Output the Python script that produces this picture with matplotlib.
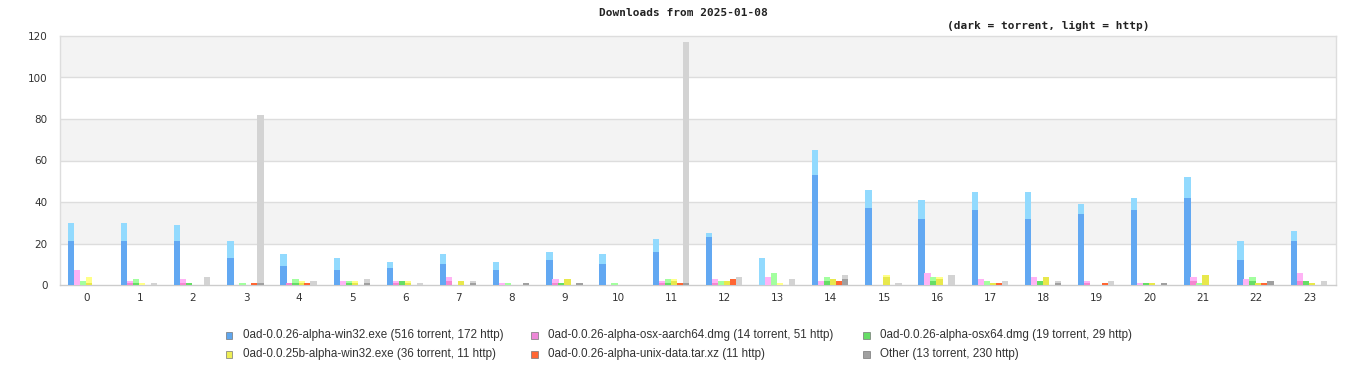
import matplotlib
matplotlib.use("Agg")
import matplotlib.pyplot as plt
import numpy as np
from matplotlib.patches import Rectangle

hours = list(range(24))

series_labels = [
    "0ad-0.0.26-alpha-win32.exe (516 torrent, 172 http)",
    "0ad-0.0.26-alpha-osx-aarch64.dmg (14 torrent, 51 http)",
    "0ad-0.0.26-alpha-osx64.dmg (19 torrent, 29 http)",
    "0ad-0.0.25b-alpha-win32.exe (36 torrent, 11 http)",
    "0ad-0.0.26-alpha-unix-data.tar.xz (11 http)",
    "Other (13 torrent, 230 http)",
]

win32_torrent = [21, 21, 21, 13, 9, 7, 8, 10, 7, 12, 10, 16, 23, 0, 53, 37, 32, 36, 32, 34, 36, 42, 12, 21]
win32_http = [9, 9, 8, 8, 6, 6, 3, 5, 4, 4, 5, 6, 2, 13, 12, 9, 9, 9, 13, 5, 6, 10, 9, 5]
aarch_torrent = [0, 1, 1, 0, 1, 0, 1, 2, 0, 1, 0, 1, 1, 0, 0, 0, 0, 0, 0, 1, 0, 2, 0, 2]
aarch_http = [7, 1, 2, 0, 0, 2, 1, 2, 1, 2, 0, 1, 2, 4, 2, 0, 6, 3, 4, 1, 1, 2, 3, 4]
osx64_torrent = [0, 1, 1, 0, 1, 1, 2, 0, 0, 1, 0, 1, 0, 0, 2, 0, 2, 0, 2, 0, 1, 0, 2, 2]
osx64_http = [2, 2, 0, 1, 2, 1, 0, 0, 1, 0, 1, 2, 2, 6, 2, 0, 2, 2, 0, 0, 0, 1, 2, 0]
a25_torrent = [1, 0, 0, 0, 1, 1, 1, 2, 0, 3, 0, 2, 2, 0, 3, 4, 3, 1, 4, 0, 1, 5, 1, 1]
a25_http = [3, 1, 0, 0, 1, 1, 1, 0, 0, 0, 0, 1, 0, 1, 0, 1, 1, 0, 0, 0, 0, 0, 0, 0]
unix_torrent = [0] * 24
unix_http = [0, 0, 0, 1, 1, 0, 0, 0, 0, 0, 0, 1, 3, 0, 2, 0, 0, 1, 0, 1, 0, 0, 1, 0]
other_torrent = [0, 0, 0, 1, 0, 1, 0, 1, 1, 1, 0, 1, 0, 0, 3, 0, 0, 0, 1, 0, 1, 0, 2, 0]
other_http = [0, 1, 4, 81, 2, 2, 1, 1, 0, 0, 0, 116, 4, 3, 2, 1, 5, 2, 1, 2, 0, 0, 0, 2]

torrent = [win32_torrent, aarch_torrent, osx64_torrent, a25_torrent, unix_torrent, other_torrent]
http = [win32_http, aarch_http, osx64_http, a25_http, unix_http, other_http]

dark_colors = ["#62a8f2", "#f587d0", "#66dd66", "#e8e84c", "#ff6633", "#a0a0a0"]
light_colors = ["#92dafe", "#ffb3f5", "#a3ff9f", "#ffff88", "#ff6633", "#d3d3d3"]
legend_colors = ["#5fa6ee", "#ee88d8", "#66dd66", "#eeee55", "#ff6633", "#a0a0a0"]

W, H = 1366, 380
fig = plt.figure(figsize=(W / 100, H / 100), dpi=100)
L, R, T, B = 60, 1336, 36, 285
ax = fig.add_axes([L / W, 1 - B / H, (R - L) / W, (B - T) / H])

band_px = (R - L) / 24.0
bw = 6.3 / band_px
x = np.arange(24)
for i in range(6):
    off = (-15.6 + 6.0 * i) / band_px
    t = np.array(torrent[i])
    h = np.array(http[i])
    ax.bar(x + off, t, width=bw, color=dark_colors[i], linewidth=0, zorder=3)
    ax.bar(x + off, h, width=bw, bottom=t, color=light_colors[i], linewidth=0, zorder=3)

ax.set_xlim(-0.5, 23.5)
ax.set_ylim(0, 120)
for lo in (20, 60, 100):
    ax.axhspan(lo, lo + 20, color="#f3f3f3", zorder=0, linewidth=0)
for g in (20, 40, 60, 80, 100):
    ax.axhline(g, color="#dddddd", linewidth=1.0, zorder=1)
ax.set_yticks([0, 20, 40, 60, 80, 100, 120])
ax.set_xticks(x)
ax.set_xticklabels([str(hh) for hh in hours])
ax.tick_params(axis="both", length=0, labelsize=7.5, labelcolor="#333333")
ax.tick_params(axis="y", pad=9)
ax.tick_params(axis="x", pad=6)
for s in ax.spines.values():
    s.set_color("#dddddd")
    s.set_linewidth(1.0)
ax.spines["bottom"].set_color("#cccccc")

fig.text(683 / W, 1 - 13 / H, "Downloads from 2025-01-08", ha="center", va="center",
         family="DejaVu Sans Mono", fontweight="bold", fontsize=8, color="#222222")
fig.text(1048 / W, 1 - 26 / H, "(dark = torrent, light = http)", ha="center", va="center",
         family="DejaVu Sans Mono", fontweight="bold", fontsize=8, color="#222222")

# legend
col_x = [229, 534, 866]
row_y = [335, 354]
for i, lab in enumerate(series_labels):
    cx = col_x[i % 3]
    cy = row_y[i // 3]
    fig.patches.append(Rectangle(((cx - 3.5) / W, 1 - (cy + 3.5) / H), 7 / W, 7 / H,
                                 transform=fig.transFigure, facecolor=legend_colors[i],
                                 edgecolor="#777777", linewidth=0.5))
    fig.text((cx + 14) / W, 1 - cy / H, lab, ha="left", va="center",
             family="Liberation Sans", fontsize=8.4, color="#333333")

fig.savefig("out.png", dpi=100)
